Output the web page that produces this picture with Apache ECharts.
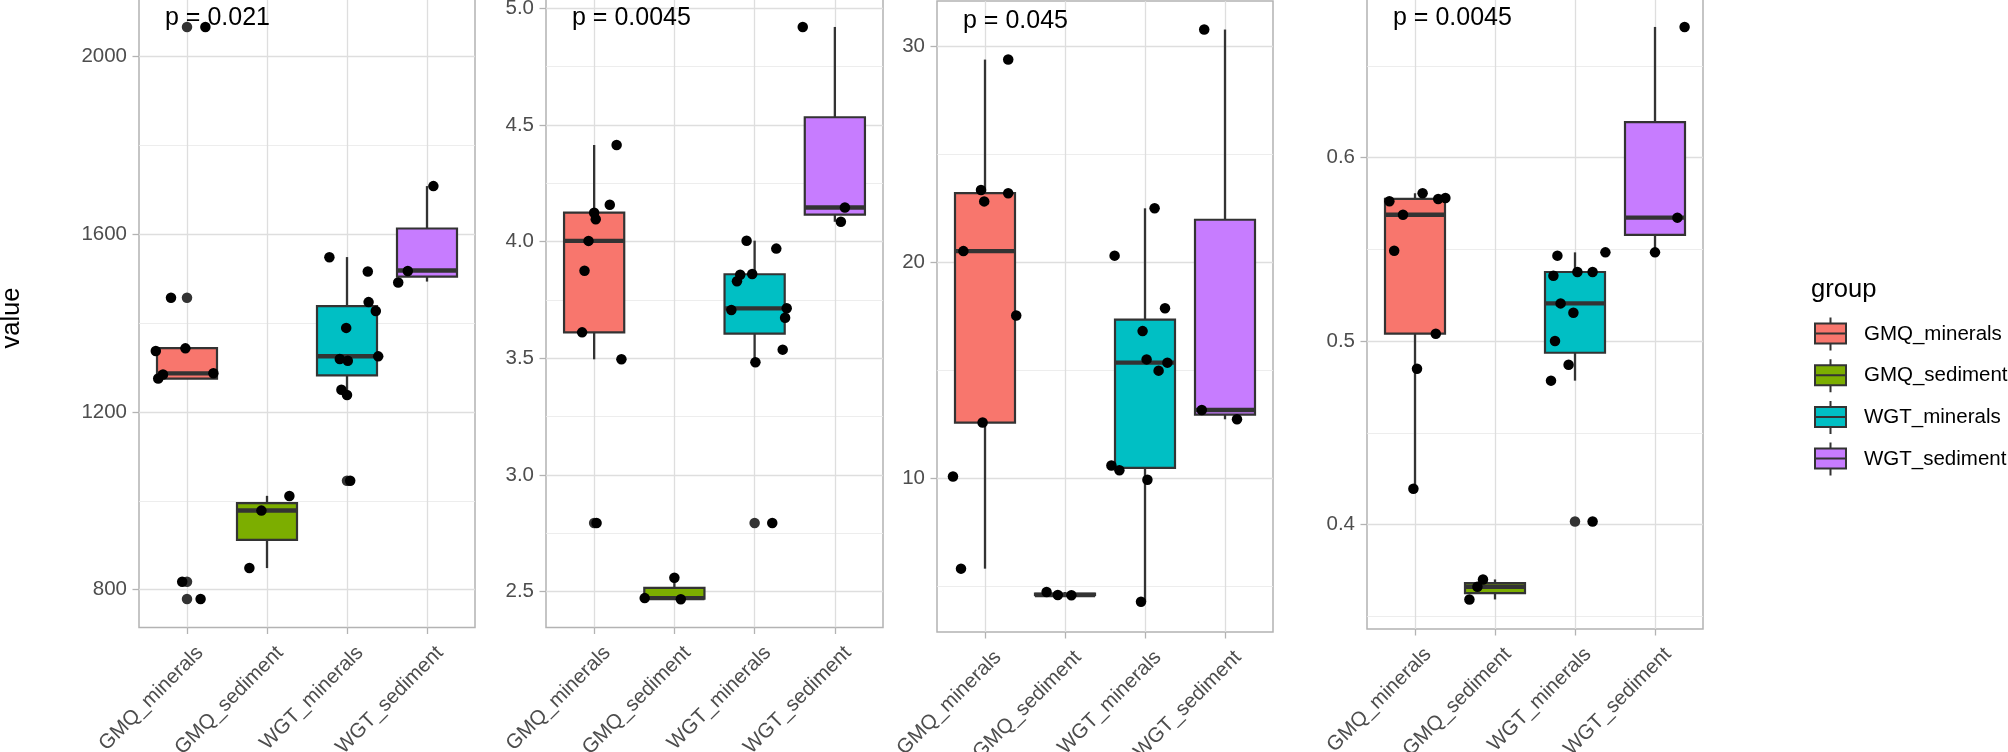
<!DOCTYPE html>
<html>
<head>
<meta charset="utf-8">
<script src="https://cdn.jsdelivr.net/npm/echarts@6/dist/echarts.min.js"></script>
<style>
html,body{margin:0;padding:0;background:#ffffff;}
#chart{width:2008px;height:752px;}
</style>
</head>
<body>
<div id="chart"></div>
<script>
// ---------- data ----------
const groups = ['GMQ_minerals', 'GMQ_sediment', 'WGT_minerals', 'WGT_sediment'];
const groupColors = ['#F8766D', '#7CAE00', '#00BFC4', '#C77CFF'];
const pLabels = ['p = 0.021', 'p = 0.0045', 'p = 0.045', 'p = 0.0045'];
const yTitle = 'value';
const legendTitle = 'group';

// box statistics per group: [lower whisker, Q1, median, Q3, upper whisker]
const boxA = [[1274.7, 1274.7, 1286.6, 1343.6, 1343.6], [848.7, 912.0, 978.2, 994.7, 1011.2], [1238.0, 1282.0, 1325.2, 1438.1, 1548.3], [1493.2, 1504.2, 1518.0, 1612.6, 1708.0]];
const boxB = [[3.4955, 3.611, 4.003, 4.124, 4.414], [2.467, 2.4695, 2.472, 2.516, 2.5595], [3.483, 3.6055, 3.714, 3.86, 4.004], [4.085, 4.1155, 4.146, 4.533, 4.92]];
const boxC = [[5.83, 12.59, 20.52, 23.2, 29.38], [4.60, 4.605, 4.61, 4.68, 4.75], [4.30, 10.49, 15.36, 17.35, 22.5], [12.74, 12.955, 13.17, 21.97, 30.77]];
const boxD = [[0.4196, 0.5041, 0.5689, 0.5775, 0.5806], [0.3593, 0.36275, 0.3662, 0.3682, 0.3702], [0.4785, 0.4937, 0.5206, 0.5377, 0.5484], [0.5484, 0.5579, 0.5673, 0.6193, 0.6712]];

// boxplot outliers [group position, value]
const outA = [[1, 2066], [1, 1457], [1, 818], [1, 779], [3, 1045]];
const outB = [[1, 2.794], [3, 2.794]];
const outC = [];
const outD = [[3, 0.4018]];

// jittered observations [jittered group position, value]
const ptsA = [[1.23, 2066], [0.80, 1457], [0.61, 1337], [0.98, 1343], [0.64, 1275], [0.70, 1284], [1.33, 1287], [0.94, 818], [1.17, 779],
  [2.28, 1011], [1.93, 978], [1.78, 849],
  [2.78, 1548], [3.26, 1516], [3.27, 1447], [3.36, 1427], [2.99, 1389], [2.91, 1319], [3.01, 1315], [3.39, 1325], [2.93, 1250], [3.00, 1238], [3.04, 1045],
  [4.08, 1708], [3.76, 1517], [3.64, 1491]];
const ptsB = [[1.28, 4.414], [1.195, 4.158], [1.00, 4.124], [1.02, 4.096], [0.93, 4.003], [0.88, 3.875], [0.85, 3.611], [1.34, 3.4955], [1.03, 2.794],
  [2.00, 2.5595], [1.63, 2.472], [2.08, 2.467],
  [2.90, 4.004], [3.27, 3.970], [2.82, 3.858], [2.78, 3.830], [2.97, 3.861], [2.71, 3.707], [3.40, 3.714], [3.38, 3.674], [3.35, 3.537], [3.01, 3.483], [3.22, 2.794],
  [3.60, 4.92], [4.125, 4.146], [4.075, 4.085]];
const ptsC = [[1.29, 29.38], [0.95, 23.35], [0.99, 22.82], [1.29, 23.2], [0.73, 20.52], [1.39, 17.54], [0.97, 12.59], [0.60, 10.09], [0.70, 5.83],
  [1.77, 4.75], [1.91, 4.61], [2.08, 4.60],
  [3.12, 22.5], [2.62, 20.31], [3.25, 17.88], [2.97, 16.82], [3.02, 15.51], [3.28, 15.36], [3.17, 14.99], [2.58, 10.6], [2.68, 10.38], [3.03, 9.94], [2.95, 4.30],
  [3.74, 30.77], [3.71, 13.17], [4.15, 12.74]];
const ptsD = [[1.095, 0.5806], [0.68, 0.5762], [1.29, 0.5775], [1.38, 0.578], [0.85, 0.5689], [0.74, 0.5493], [1.26, 0.5041], [1.025, 0.485], [0.98, 0.4196],
  [1.85, 0.3702], [1.78, 0.3662], [1.68, 0.3593],
  [3.38, 0.5484], [2.78, 0.5466], [2.73, 0.5357], [3.03, 0.5377], [3.22, 0.5377], [2.82, 0.5206], [2.98, 0.5155], [2.75, 0.5001], [2.92, 0.4872], [2.70, 0.4785], [3.22, 0.4018],
  [4.37, 0.6712], [4.28, 0.5673], [4.00, 0.5484]];

// y axis extents and tick labels
const rangeA = [715, 2130];
const rangeB = [2.346, 5.042];
const rangeC = [2.90, 32.09];
const rangeD = [0.3432, 0.6867];
const majorA = [800, 1200, 1600, 2000];
const majorB = [2.5, 3.0, 3.5, 4.0, 4.5, 5.0];
const majorC = [10, 20, 30];
const majorD = [0.4, 0.5, 0.6];
const minorA = [1000, 1400, 1800];
const minorB = [2.75, 3.25, 3.75, 4.25, 4.75];
const minorC = [5, 15, 25];
const minorD = [0.35, 0.45, 0.55, 0.65];
const decimals = [0, 1, 0, 1];
const xTicks = [1, 2, 3, 4];

// ---------- layout / style ----------
const FONT = 'Liberation Sans, Arial, Helvetica, sans-serif';
const panelLeft = [139, 546, 937, 1367];
const panelWidth = [336, 337, 336, 336];
const panelTop = [-1.5, -1.5, 1, -1.5];
const panelBottom = [627.5, 627.5, 632, 629];
const boxWidth = 0.75;
const STROKE = '#333333';

const panels = [
  {box: boxA, out: outA, pts: ptsA, range: rangeA, major: majorA, minor: minorA},
  {box: boxB, out: outB, pts: ptsB, range: rangeB, major: majorB, minor: minorB},
  {box: boxC, out: outC, pts: ptsC, range: rangeC, major: majorC, minor: minorC},
  {box: boxD, out: outD, pts: ptsD, range: rangeD, major: majorD, minor: minorD}
];

function renderBox(params, api) {
  const x = api.value(0);
  const pMin = api.coord([x, api.value(1)]);
  const pQ1 = api.coord([x, api.value(2)]);
  const pMed = api.coord([x, api.value(3)]);
  const pQ3 = api.coord([x, api.value(4)]);
  const pMax = api.coord([x, api.value(5)]);
  const w = api.size([boxWidth, 0])[0];
  const fill = api.visual('color');
  return {
    type: 'group',
    children: [
      {type: 'line', shape: {x1: pMin[0], y1: pMin[1], x2: pQ1[0], y2: pQ1[1]}, style: {stroke: STROKE, lineWidth: 2.3}},
      {type: 'line', shape: {x1: pQ3[0], y1: pQ3[1], x2: pMax[0], y2: pMax[1]}, style: {stroke: STROKE, lineWidth: 2.3}},
      {type: 'rect', shape: {x: pQ3[0] - w / 2, y: pQ3[1], width: w, height: pQ1[1] - pQ3[1]}, style: {fill: fill, stroke: STROKE, lineWidth: 2.2}},
      {type: 'line', shape: {x1: pMed[0] - w / 2, y1: pMed[1], x2: pMed[0] + w / 2, y2: pMed[1]}, style: {stroke: STROKE, lineWidth: 4.4}}
    ]
  };
}

const grids = [], xAxes = [], yAxes = [], series = [], graphics = [];

panels.forEach((pn, p) => {
  grids.push({
    left: panelLeft[p], top: panelTop[p], width: panelWidth[p], height: panelBottom[p] - panelTop[p],
    show: true, borderColor: '#B3B3B3', borderWidth: 1.5, backgroundColor: 'rgba(0,0,0,0)',
    containLabel: false, outerBoundsMode: 'none'
  });
  xAxes.push({
    type: 'value', gridIndex: p, min: 0.4, max: 4.6,
    axisLine: {show: false},
    axisTick: {show: true, length: 6.5, lineStyle: {color: '#B3B3B3', width: 1.3}, customValues: xTicks},
    axisLabel: {
      customValues: xTicks, formatter: v => groups[Math.round(v) - 1],
      rotate: 45, align: 'right', verticalAlign: 'top', margin: 20.5, padding: [0, -8, 0, 0],
      fontSize: 20.5, color: '#4D4D4D', fontFamily: FONT
    },
    splitLine: {show: true, lineStyle: {color: '#DEDEDE', width: 1.3}}
  });
  yAxes.push({
    type: 'value', gridIndex: p, min: pn.range[0], max: pn.range[1],
    axisLine: {show: false},
    axisTick: {show: true, length: 6.5, lineStyle: {color: '#B3B3B3', width: 1.3}, customValues: pn.major},
    axisLabel: {customValues: pn.major, formatter: v => v.toFixed(decimals[p]), fontSize: 20.5, color: '#4D4D4D', margin: 12, fontFamily: FONT},
    splitLine: {show: true, lineStyle: {color: '#DEDEDE', width: 1.3}}
  });
  yAxes.push({
    type: 'value', gridIndex: p, min: pn.range[0], max: pn.range[1], position: 'left',
    axisLine: {show: false},
    axisTick: {show: false, customValues: pn.minor},
    axisLabel: {show: false, customValues: pn.minor},
    splitLine: {show: true, lineStyle: {color: '#EBEBEB', width: 0.9}}
  });
  groups.forEach((g, gi) => {
    series.push({
      type: 'custom', name: g, xAxisIndex: p, yAxisIndex: 2 * p,
      renderItem: renderBox,
      itemStyle: {color: groupColors[gi], borderColor: STROKE, borderWidth: 2},
      dimensions: ['x', 'min', 'q1', 'med', 'q3', 'max'],
      encode: {x: 0, y: [1, 2, 3, 4, 5]},
      data: [[xTicks[gi]].concat(pn.box[gi])],
      z: 2, silent: true
    });
  });
  series.push({
    type: 'scatter', name: 'outliers' + p, xAxisIndex: p, yAxisIndex: 2 * p,
    data: pn.out, symbolSize: 10.5, itemStyle: {color: STROKE, opacity: 1}, z: 3, silent: true
  });
  series.push({
    type: 'scatter', name: 'points' + p, xAxisIndex: p, yAxisIndex: 2 * p,
    data: pn.pts, symbolSize: 10.5, itemStyle: {color: '#000000', opacity: 1}, z: 4, silent: true
  });
  graphics.push({
    type: 'text', x: panelLeft[p] + 26, y: panelTop[p] + 20, z: 10,
    style: {text: pLabels[p], fontSize: 25, fill: '#000000', fontFamily: FONT, align: 'left', verticalAlign: 'middle'}
  });
});

graphics.push({
  type: 'text', x: 12, y: 318, rotation: Math.PI / 2, z: 10,
  style: {text: yTitle, fontSize: 25.6, fill: '#000000', fontFamily: FONT, align: 'center', verticalAlign: 'middle'}
});
graphics.push({
  type: 'text', x: 1811, y: 290, z: 10,
  style: {text: legendTitle, fontSize: 25.6, fill: '#000000', fontFamily: FONT, align: 'left', verticalAlign: 'middle'}
});

const chart = echarts.init(document.getElementById('chart'), null, {renderer: 'canvas'});
chart.setOption({
  animation: false,
  backgroundColor: '#ffffff',
  grid: grids,
  xAxis: xAxes,
  yAxis: yAxes,
  series: series,
  graphic: graphics,
  legend: {
    show: true, data: groups, orient: 'vertical', left: 1814, top: 316.5, padding: 0,
    itemWidth: 31, itemHeight: 33, itemGap: 6.7, selectedMode: false,
    icon: 'path://M15.5,0L15.5,6M0,6L31,6L31,26L0,26ZM0,16L31,16M15.5,26L15.5,33',
    itemStyle: {borderColor: STROKE, borderWidth: 2},
    textStyle: {fontSize: 20.5, color: '#000000', fontFamily: FONT, padding: [0, 0, 0, 13]}
  }
});
</script>
</body>
</html>
